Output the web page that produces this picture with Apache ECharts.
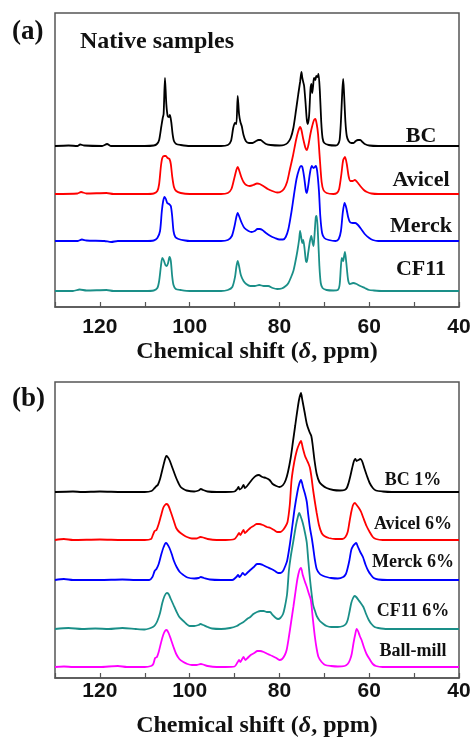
<!DOCTYPE html>
<html>
<head>
<meta charset="utf-8">
<script src="https://cdn.jsdelivr.net/npm/echarts@6/dist/echarts.min.js"></script>
<style>
html,body{margin:0;padding:0;background:#fff;}
#chart{width:475px;height:743px;}
</style>
</head>
<body>
<div id="chart"></div>
<script>
// Panel (a): native samples, [ppm, intensity]
var namesA = ['BC', 'Avicel', 'Merck', 'CF11'];
var offsetsA = [161, 113, 66, 16];
var bcA = [[130,0],[127,0.5],[125,0],[124.4,1.5],[123.5,0.5],[119.5,0],[118.4,2],[117.5,0],[110,0],[108,0.5],[107.3,2],[106.8,6],[106.3,20],[106.0,28],[105.8,32],[105.5,68],[105.2,42],[104.9,30],[104.6,29],[104.4,31],[104.1,24],[103.8,12],[103.5,5],[103,2],[102,1],[100,0],[93,0],[91.5,1],[90.8,5],[90.3,18],[89.9,23],[89.6,22],[89.3,50],[89.0,32],[88.7,24],[88.4,20],[88.0,11],[87.5,5],[86.8,3],[86,3],[85.2,5],[84.7,6],[84.2,6],[83.6,4],[83,2],[82,1],[80,0.5],[79,1],[78.2,3],[77.5,8],[76.9,18],[76.3,36],[75.8,52],[75.4,64],[75.1,74],[74.9,68],[74.7,64],[74.5,60],[74.2,44],[73.9,26],[73.7,22],[73.4,30],[73.1,56],[72.9,62],[72.7,53],[72.5,60],[72.3,68],[72.0,66],[71.8,70],[71.5,69],[71.3,72],[71.0,55],[70.7,25],[70.4,8],[70.0,3],[69,1],[67.5,0.5],[67,1.5],[66.6,6],[66.3,25],[66.0,55],[65.8,67],[65.6,52],[65.3,24],[65.0,10],[64.6,5],[64,3],[63.5,3],[63,5],[62.5,6],[62,6],[61.5,4],[61,2],[60,0.5],[58,0],[50,0],[40,0]];
var avicelA = [[130,0],[125,0.5],[124.2,2],[123,0.5],[118.5,1],[117,0],[110,0],[108,0.5],[107.2,3],[106.8,10],[106.4,28],[106.1,36],[105.7,38],[105.3,38],[104.9,36],[104.5,35],[104.2,30],[103.9,18],[103.5,7],[103,3],[102,1],[100,0],[93,0],[91.5,1],[90.7,5],[90.1,15],[89.6,24],[89.3,27],[89.0,24],[88.5,17],[88.0,12],[87.4,9],[86.6,8],[85.8,9],[85.0,10.5],[84.4,10],[83.6,8],[82.6,5],[81.6,3],[80.5,1.5],[79.8,2],[79,5],[78.3,12],[77.7,24],[77,38],[76.3,54],[75.8,63],[75.4,67],[75.1,64],[74.7,55],[74.2,46],[73.9,44],[73.5,50],[73.1,60],[72.7,68],[72.3,74],[72.0,75],[71.7,70],[71.4,60],[71.0,35],[70.6,12],[70.2,4],[69.5,1],[68,0],[67.2,1],[66.7,5],[66.2,20],[65.8,34],[65.4,37],[65.0,30],[64.6,18],[64.2,13],[63.7,13],[63.2,14],[62.7,12],[62,8],[61.2,4],[60.5,2],[59.5,0.5],[58,0],[40,0]];
var merckA = [[130,0],[125,0],[124,1.5],[123,0.5],[119,0],[117.5,-1],[116,0],[110,0],[108,0.5],[107.2,3],[106.6,10],[106.2,30],[105.9,40],[105.6,44],[105.3,42],[105.0,38],[104.6,37],[104.2,35],[103.9,25],[103.6,10],[103.2,4],[102.5,2],[101,0.5],[100,0],[93,0],[91.5,1],[90.6,5],[90.0,15],[89.6,24],[89.3,28],[89.0,25],[88.4,18],[87.8,13],[86.9,10],[86.2,9],[85.5,10],[84.9,12],[84.4,12],[83.8,11],[83,8],[82,5],[81,3],[80,1.5],[79.2,1.5],[78.6,4],[78,12],[77.4,27],[76.8,45],[76.2,62],[75.6,72],[75.2,75],[74.9,74],[74.5,64],[74.1,50],[73.9,48],[73.6,55],[73.2,68],[72.8,75],[72.4,73],[71.9,75],[71.6,70],[71.2,50],[70.9,25],[70.5,8],[70.0,3],[69,1],[67.5,0],[66.8,2],[66.3,10],[65.9,28],[65.5,38],[65.1,33],[64.7,24],[64.3,19],[63.7,18],[63.1,18],[62.5,16],[61.8,12],[61,7],[60,3],[59.2,1],[58,0],[40,0]];
var cf11A = [[130,0],[126,0],[124.5,1.5],[123,0.5],[118.5,1],[117,0],[110,0],[108,0.5],[107.2,3],[106.8,10],[106.4,25],[106.1,33],[105.8,31],[105.4,26],[105.1,25],[104.8,28],[104.5,34],[104.2,30],[103.9,15],[103.6,6],[103.1,2],[102,1],[100,0],[93,0],[91.5,1],[90.5,4],[89.9,14],[89.6,24],[89.3,30],[89.0,25],[88.6,16],[88.0,10],[87.4,7],[86.5,5],[85.5,5],[84.5,6],[83.5,5],[82.5,5],[81.5,3],[80.5,2],[79.5,2.5],[78.6,5],[78.0,8],[77.4,14],[76.9,20],[76.5,28],[76.0,40],[75.6,52],[75.4,60],[75.1,52],[74.9,48],[74.7,51],[74.4,42],[74.1,30],[73.9,29],[73.6,38],[73.2,50],[72.9,55],[72.6,48],[72.4,45],[72.2,55],[71.9,74],[71.7,75],[71.4,55],[71.1,25],[70.8,8],[70.4,3],[69.5,1],[68,0.5],[67,1],[66.6,6],[66.3,25],[66.1,33],[65.8,30],[65.6,35],[65.4,39],[65.1,28],[64.7,11],[64.3,7],[63.6,8],[62.8,7],[62,5],[61,3],[60,1],[59,0.5],[57,0],[40,0]];

// Panel (b): regenerated / ball-milled samples
var namesB = ['BC 1%', 'Avicel 6%', 'Merck 6%', 'CF11 6%', 'Ball-mill'];
var offsetsB = [186, 138, 98, 49, 11];
var bcB = [[130,0],[126,0.5],[124,0],[120,0.5],[115,0],[110,0],[108.5,1],[107.8,4],[107.4,6],[107.1,7],[106.6,13],[106.1,22],[105.6,31],[105.2,36],[104.9,35],[104.5,32],[104.0,26],[103.5,20],[103,14],[102.5,9],[102,5],[101.4,3],[100.7,1.5],[99,0.5],[98,1.5],[97.5,3],[97,2],[96,0.5],[94,0],[92,0],[90,0.5],[89.4,3],[89.1,5],[88.9,2.5],[88.4,4],[88.0,7],[87.7,4],[87.2,6],[86.7,9],[86.0,13],[85.3,16],[84.6,17],[83.8,15],[83.0,14],[82.2,12],[81.5,8],[80.7,6],[80,5],[79.2,7],[78.6,12],[78.1,20],[77.5,34],[77.0,50],[76.5,66],[76.0,82],[75.6,93],[75.2,99],[74.9,92],[74.4,80],[73.9,68],[73.3,60],[72.9,56],[72.6,47],[72.2,32],[71.7,18],[71.1,10],[70.5,7],[69.5,4],[68,2],[66.5,1.5],[65.5,2],[65,4],[64.6,9],[64.2,16],[63.8,24],[63.4,31],[63.1,33],[62.8,31],[62.4,32],[62.0,33],[61.6,31],[61.1,24],[60.5,16],[59.9,9],[59.2,4],[58.5,1.5],[57,0.5],[55,0],[40,0]];
var avicelB = [[130,0],[128,1],[126,0],[120,0.5],[115,0],[110,0],[108.6,1],[108.2,5],[107.8,9],[107.4,10],[106.9,16],[106.4,24],[105.9,32],[105.5,35],[105.1,36],[104.7,34],[104.2,28],[103.6,20],[103,12],[102.3,8],[101.4,5],[100.6,3],[99.5,1.5],[98.5,1.5],[97.6,3],[97,2.5],[96,1],[94,0],[92,0],[90,1],[89.3,5],[89.0,7],[88.7,5],[88.3,8],[88.0,10],[87.7,7],[87.2,9],[86.5,12],[85.8,14],[85.1,16],[84.5,16],[83.7,15],[82.8,13],[82.0,12],[81.2,10],[80.4,8],[79.8,8],[79.2,10],[78.6,14],[78.2,18],[77.7,35],[77.3,60],[76.7,78],[76.1,90],[75.6,96],[75.2,99],[74.8,92],[74.3,84],[73.9,80],[73.5,76],[73.2,72],[72.9,64],[72.5,50],[72.1,38],[71.7,27],[71.2,15],[70.6,7],[70,4],[69,2],[67.5,1],[66,1],[65.3,3],[64.8,8],[64.4,18],[64.0,28],[63.6,35],[63.2,37],[62.8,35],[62.3,32],[61.8,28],[61.3,22],[60.6,14],[59.9,8],[59.2,3],[58.5,1],[57,0],[40,0]];
var merckB = [[130,0],[128,1],[126,0],[120,0],[115,0.5],[112,0],[109,0],[108.3,3],[107.8,9],[107.4,11],[106.9,16],[106.3,26],[105.8,33],[105.3,37],[105.0,36],[104.5,32],[104.0,26],[103.5,19],[102.9,13],[102.2,8],[101.4,5],[100.5,2.5],[99,1.5],[98,2],[97.5,3],[96.8,2],[95.5,0.5],[93,0],[90.5,0],[89.6,3],[89.2,5],[88.9,3],[88.5,5],[88.2,7],[87.7,5],[87.2,7],[86.5,10],[85.7,13],[85.0,16],[84.4,16],[83.7,15],[82.8,13],[81.8,11],[81.0,9],[80.3,7],[79.8,7],[79.2,9],[78.7,14],[78.3,19],[77.7,35],[77.1,55],[76.6,72],[76.0,88],[75.6,96],[75.2,100],[74.7,92],[74.3,86],[73.9,78],[73.6,66],[73.2,52],[72.8,42],[72.5,33],[72.1,20],[71.7,11],[71.0,6],[70.2,4],[69.5,3],[68.5,2],[67,1.5],[65.8,3],[65.2,6],[64.8,12],[64.4,20],[64.0,30],[63.6,34],[63.2,36],[62.9,37],[62.5,33],[62,28],[61.4,23],[60.8,15],[60.2,9],[59.6,5],[59,2],[58,0.5],[56,0],[40,0]];
var cf11B = [[130,0],[127,1],[124,0],[121,0.5],[118,0],[115,1],[112,0],[110,-0.5],[109,0.5],[108.2,2],[107.7,4],[107.2,8],[106.6,16],[106.1,26],[105.6,33],[105.1,36],[104.7,35],[104.2,30],[103.6,24],[103,18],[102.3,12],[101.4,8],[100.7,5],[100,3],[99,3],[98,4],[97.6,5],[97,4],[96,2],[95,0.5],[93,0],[91,1],[89.5,3],[88.8,5],[88,7],[87.2,10],[86.5,12],[85.8,15],[85,17],[84.2,18],[83.5,18],[82.8,17],[82.1,17],[81.5,14],[80.8,11],[80.3,10],[79.8,11],[79.2,15],[78.8,22],[78.3,35],[77.9,58],[77.5,72],[76.9,88],[76.3,104],[75.9,112],[75.6,116],[75.3,113],[74.8,106],[74.3,96],[73.9,86],[73.6,70],[73.2,50],[72.8,34],[72.5,24],[72.0,17],[71.7,13],[71.0,8],[70.2,5],[69.5,3],[68.5,2],[67,2],[65.8,3],[65.2,5],[64.8,9],[64.4,17],[64.0,26],[63.6,31],[63.3,33],[62.9,32],[62.4,29],[61.9,26],[61.3,22],[60.7,15],[60.1,9],[59.5,5],[58.8,2],[58,1],[56,0],[40,0]];
var ballB = [[130,0],[128,0.5],[126,0],[120,0],[116,1],[114,0],[110,0],[108.6,1],[108.1,3],[107.7,9],[107.3,10],[106.9,15],[106.4,24],[105.9,32],[105.5,36],[105.1,37],[104.7,34],[104.2,28],[103.6,20],[103,13],[102.3,8],[101.4,5],[100.5,3],[99.5,2],[98.5,2],[97.5,3],[97,2.5],[96,1],[94,0],[92,0],[90,0.5],[89.3,5],[89.0,7],[88.7,5],[88.3,8],[88.0,10],[87.6,7],[87.1,9],[86.4,12],[85.6,14],[84.9,16],[84.3,16],[83.5,15],[82.6,13],[81.6,11],[80.7,9],[80.0,7],[79.4,8],[78.8,12],[78.4,17],[77.9,30],[77.4,45],[76.9,60],[76.4,76],[76.0,88],[75.6,96],[75.2,99],[74.8,92],[74.3,85],[73.9,80],[73.5,74],[73.0,67],[72.6,50],[72.1,30],[71.7,18],[71.3,10],[70.6,5],[69.8,2],[68.5,1],[67,0.5],[65.5,1],[64.8,3],[64.3,7],[63.9,13],[63.5,24],[63.1,33],[62.8,38],[62.5,36],[62.1,31],[61.7,27],[61.2,20],[60.6,13],[59.8,7],[59.2,3],[58.5,1],[57,0],[40,0]];

var xTicks = [120, 100, 80, 60, 40];
var xTitle = 'Chemical shift (';
var colorsA = ['#000000', '#ff0000', '#0000ff', '#1a8f88'];
var colorsB = ['#000000', '#ff0000', '#0000ff', '#1a8f88', '#ff00ff'];

function shift(arr, off) {
  return arr.map(function (p) { return [p[0], p[1] + off]; });
}

var chart = echarts.init(document.getElementById('chart'));

var grids = [
  {left: 55, width: 404, top: 13, height: 294, show: true, borderColor: '#555', borderWidth: 1.5},
  {left: 55, width: 404, top: 382, height: 296, show: true, borderColor: '#555', borderWidth: 1.5}
];

function makeX(idx, margin, nameGap) {
  return {
    gridIndex: idx, type: 'value', min: 40, max: 130, interval: 10, inverse: true,
    axisLine: {show: true, lineStyle: {color: '#555', width: 1.5}},
    axisTick: {show: true, inside: true, length: 5, lineStyle: {color: '#555', width: 1.2}},
    splitLine: {show: false},
    axisLabel: {
      margin: margin, color: '#111', fontFamily: 'Liberation Sans, Arial, sans-serif', fontWeight: 'bold', fontSize: 21,
      formatter: function (v) { return xTicks.indexOf(v) >= 0 ? String(v) : ''; }
    },
    name: '{t|' + xTitle + '}{i|δ}{t|, ppm)}',
    nameLocation: 'middle', nameGap: nameGap,
    nameTextStyle: {
      rich: {
        t: {fontFamily: 'Liberation Serif, Times New Roman, serif', fontWeight: 'bold', fontSize: 24, color: '#111'},
        i: {fontFamily: 'Liberation Serif, Times New Roman, serif', fontWeight: 'bold', fontStyle: 'italic', fontSize: 24, color: '#111'}
      }
    }
  };
}

var series = [];
var dataA = [bcA, avicelA, merckA, cf11A];
var dataB = [bcB, avicelB, merckB, cf11B, ballB];
dataA.forEach(function (d, i) {
  series.push({type: 'line', name: namesA[i], xAxisIndex: 0, yAxisIndex: 0, data: shift(d, offsetsA[i]),
    showSymbol: false, smooth: 0.25, lineStyle: {color: colorsA[i], width: 1.8}, itemStyle: {color: colorsA[i]}, silent: true, animation: false});
});
dataB.forEach(function (d, i) {
  series.push({type: 'line', name: namesB[i], xAxisIndex: 1, yAxisIndex: 1, data: shift(d, offsetsB[i]),
    showSymbol: false, smooth: 0.25, lineStyle: {color: colorsB[i], width: 1.8}, itemStyle: {color: colorsB[i]}, silent: true, animation: false});
});

var labelFontA = 'bold 22px "Liberation Serif", "Times New Roman", serif';
var labelFontB = 'bold 18px "Liberation Serif", "Times New Roman", serif';
var labelYA = [136, 180, 226, 269];
var labelYB = [480, 524, 562, 611, 651];
var graphics = [
  {type: 'text', left: 12, top: 19, style: {text: '(a)', font: 'bold 27px "Liberation Serif", "Times New Roman", serif', fill: '#111'}},
  {type: 'text', left: 12, top: 386, style: {text: '(b)', font: 'bold 27px "Liberation Serif", "Times New Roman", serif', fill: '#111'}},
  {type: 'text', x: 80, y: 42, style: {text: 'Native samples', font: 'bold 24px "Liberation Serif", "Times New Roman", serif', fill: '#111', textVerticalAlign: 'middle'}}
];
namesA.forEach(function (n, i) {
  graphics.push({type: 'text', x: 421, y: labelYA[i], style: {text: n, font: labelFontA, fill: '#111', textAlign: 'center', textVerticalAlign: 'middle'}});
});
namesB.forEach(function (n, i) {
  graphics.push({type: 'text', x: 413, y: labelYB[i], style: {text: n, font: labelFontB, fill: '#111', textAlign: 'center', textVerticalAlign: 'middle'}});
});

chart.setOption({
  animation: false,
  backgroundColor: '#fff',
  grid: grids,
  xAxis: [makeX(0, 10, 33), makeX(1, 3, 36)],
  yAxis: [
    {gridIndex: 0, type: 'value', min: 0, max: 294, show: false},
    {gridIndex: 1, type: 'value', min: 0, max: 296, show: false}
  ],
  series: series,
  graphic: graphics
});
</script>
</body>
</html>
